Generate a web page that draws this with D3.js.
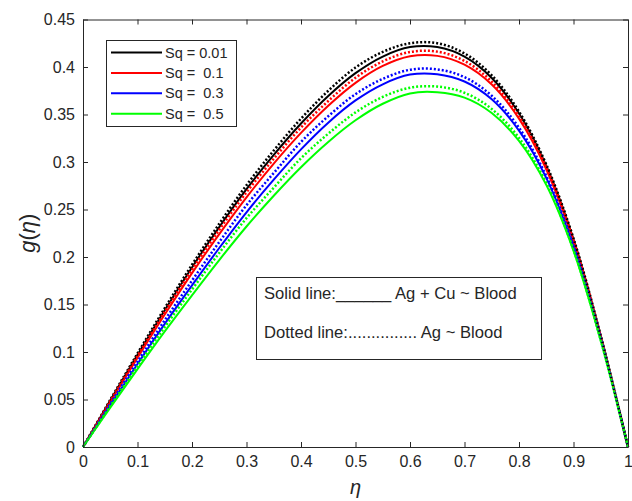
<!DOCTYPE html>
<html>
<head>
<meta charset="utf-8">
<script src="https://cdn.jsdelivr.net/npm/d3@7"></script>
<style>
  body { margin: 0; background: #fff; }
  text { font-family: "Liberation Sans", Arial, sans-serif; fill: #262626; }
</style>
</head>
<body>
<div class="bigboard"></div>
<script>
// eta values and g(eta)
var eta = [0, 0.05, 0.1, 0.15, 0.2, 0.25, 0.3, 0.35, 0.4, 0.45, 0.5, 0.55, 0.6, 0.65, 0.7, 0.75, 0.8, 0.85, 0.9, 0.95, 1];

// solid lines: Ag + Cu ~ Blood
var sq001Solid = [0, .0490, .0970, .1440, .1890, .2315, .2715, .3075, .3405, .3695, .3935, .4110, .4210, .4210, .4110, .3885, .3510, .2960, .2185, .1165, 0];
var sq01Solid  = [0, .0474, .0939, .1394, .1830, .2241, .2628, .2983, .3306, .3592, .3833, .4011, .4113, .4117, .4024, .3815, .3457, .2924, .2163, .1157, 0];
var sq03Solid  = [0, .0441, .0873, .1296, .1701, .2095, .2471, .2814, .3133, .3414, .3648, .3818, .3920, .3924, .3847, .3660, .3331, .2833, .2109, .1136, 0];
var sq05Solid  = [0, .0414, .0820, .1217, .1597, .1968, .2321, .2645, .2945, .3211, .3439, .3613, .3722, .3734, .3678, .3516, .3222, .2759, .2065, .1118, 0];

// dotted lines: Ag ~ Blood
var sq001Dot = [0, .0497, .0985, .1462, .1918, .2350, .2756, .3121, .3456, .3750, .3994, .4159, .4250, .4250, .4143, .3912, .3531, .2975, .2196, .1171, 0];
var sq01Dot  = [0, .0483, .0958, .1422, .1867, .2286, .2681, .3034, .3362, .3642, .3887, .4059, .4158, .4162, .4064, .3846, .3481, .2942, .2174, .1163, 0];
var sq03Dot  = [0, .0454, .0899, .1335, .1752, .2158, .2545, .2884, .3211, .3482, .3714, .3875, .3971, .3975, .3893, .3697, .3361, .2853, .2120, .1142, 0];
var sq05Dot  = [0, .0430, .0851, .1263, .1658, .2043, .2409, .2730, .3039, .3298, .3522, .3685, .3782, .3794, .3729, .3558, .3254, .2781, .2077, .1125, 0];

var legendLabels = ["Sq = 0.01", "Sq =  0.1", "Sq =  0.3", "Sq =  0.5"];
var colors = ["#000000", "#ff0000", "#0000ff", "#00ff00"];
var xTicks = [0, 0.1, 0.2, 0.3, 0.4, 0.5, 0.6, 0.7, 0.8, 0.9, 1];
var yTicks = [0, 0.05, 0.1, 0.15, 0.2, 0.25, 0.3, 0.35, 0.4, 0.45];

var W = 632, H = 501;
var box = { left: 83, right: 628, top: 19.5, bottom: 447 };

var svg = d3.select('.bigboard').append('svg')
  .attr('width', W)
  .attr('height', H);

var x = d3.scaleLinear().domain([0, 1]).range([box.left, box.right]);
var y = d3.scaleLinear().domain([0, 0.45]).range([box.bottom, box.top]);

var fmt = d3.format("~g");

// curves
var line = d3.line()
  .x(function(d){ return x(d[0]) })
  .y(function(d){ return y(d[1]) })
  .curve(d3.curveCatmullRom.alpha(0.5));

var solids = [sq001Solid, sq01Solid, sq03Solid, sq05Solid];
var dots = [sq001Dot, sq01Dot, sq03Dot, sq05Dot];

var zip = function(vals){ return eta.map(function(e, i){ return [e, vals[i]] }) };

svg.selectAll('.solidLine')
  .data(solids).enter().append('path')
  .attr('class', 'solidLine')
  .attr('d', function(d){ return line(zip(d)) })
  .attr('fill', 'none')
  .attr('stroke', function(d, i){ return colors[i] })
  .attr('stroke-width', 2);

svg.selectAll('.dotLine')
  .data(dots).enter().append('path')
  .attr('class', 'dotLine')
  .attr('d', function(d){ return line(zip(d)) })
  .attr('fill', 'none')
  .attr('stroke', function(d, i){ return colors[i] })
  .attr('stroke-width', 2.5)
  .attr('stroke-dasharray', '2,2');

// axes, MATLAB style box with inward ticks on all sides
var axisColor = '#262626';

var xBottom = svg.append('g')
  .attr('transform', 'translate(0,' + box.bottom + ')')
  .call(d3.axisBottom(x).tickValues(xTicks).tickFormat(fmt).tickSizeInner(-5).tickSizeOuter(0).tickPadding(9));
var xTop = svg.append('g')
  .attr('transform', 'translate(0,' + box.top + ')')
  .call(d3.axisTop(x).tickValues(xTicks).tickFormat('').tickSizeInner(-5).tickSizeOuter(0));
var yLeft = svg.append('g')
  .attr('transform', 'translate(' + box.left + ',0)')
  .call(d3.axisLeft(y).tickValues(yTicks).tickFormat(fmt).tickSizeInner(-5).tickSizeOuter(0).tickPadding(8));
var yRight = svg.append('g')
  .attr('transform', 'translate(' + box.right + ',0)')
  .call(d3.axisRight(y).tickValues(yTicks).tickFormat('').tickSizeInner(-5).tickSizeOuter(0));

svg.selectAll('.domain, .tick line').attr('stroke', axisColor);
svg.selectAll('.tick text')
  .attr('font-size', '16px')
  .attr('font-family', '"Liberation Sans", Arial, sans-serif')
  .attr('fill', axisColor);

// axis titles
svg.append('text')
  .attr('x', x(0.5))
  .attr('y', 494)
  .attr('text-anchor', 'middle')
  .attr('font-family', '"DejaVu Serif", "Liberation Serif", serif')
  .attr('font-style', 'italic')
  .attr('font-size', '20px')
  .attr('fill', '#000')
  .text('η');

svg.append('text')
  .attr('transform', 'translate(35,' + ((box.top + box.bottom) / 2) + ') rotate(-90)')
  .attr('text-anchor', 'middle')
  .attr('font-family', '"Liberation Serif", serif')
  .attr('font-size', '22px')
  .attr('fill', '#000')
  .html('<tspan font-style="italic">g</tspan>(<tspan font-style="italic">η</tspan>)');

// legend
var legend = svg.append('g').attr('class', 'legend');
legend.append('rect')
  .attr('x', 106.5).attr('y', 40.5)
  .attr('width', 130).attr('height', 86)
  .attr('fill', '#fff')
  .attr('stroke', axisColor);

var rowY = function(i){ return 52.5 + i * 20.4 };

legend.selectAll('.legLine')
  .data(colors).enter().append('line')
  .attr('x1', 111).attr('x2', 162)
  .attr('y1', function(d, i){ return rowY(i) })
  .attr('y2', function(d, i){ return rowY(i) })
  .attr('stroke', function(d){ return d })
  .attr('stroke-width', 2);

legend.selectAll('.legText')
  .data(legendLabels).enter().append('text')
  .attr('x', 165)
  .attr('y', function(d, i){ return rowY(i) + 5 })
  .attr('font-size', '14.5px')
  .style('white-space', 'pre')
  .attr('fill', '#000')
  .text(function(d){ return d });

// note box
var note = svg.append('g').attr('class', 'note');
note.append('rect')
  .attr('x', 256.5).attr('y', 277.5)
  .attr('width', 285).attr('height', 82)
  .attr('fill', 'none')
  .attr('stroke', axisColor);

note.selectAll('text')
  .data(["Solid line:______ Ag + Cu ~ Blood", "Dotted line:............... Ag ~ Blood"]).enter().append('text')
  .attr('x', 264)
  .attr('y', function(d, i){ return 299 + i * 39 })
  .attr('font-size', '16.6px')
  .attr('fill', '#000')
  .style('white-space', 'pre')
  .text(function(d){ return d });
</script>
</body>
</html>
